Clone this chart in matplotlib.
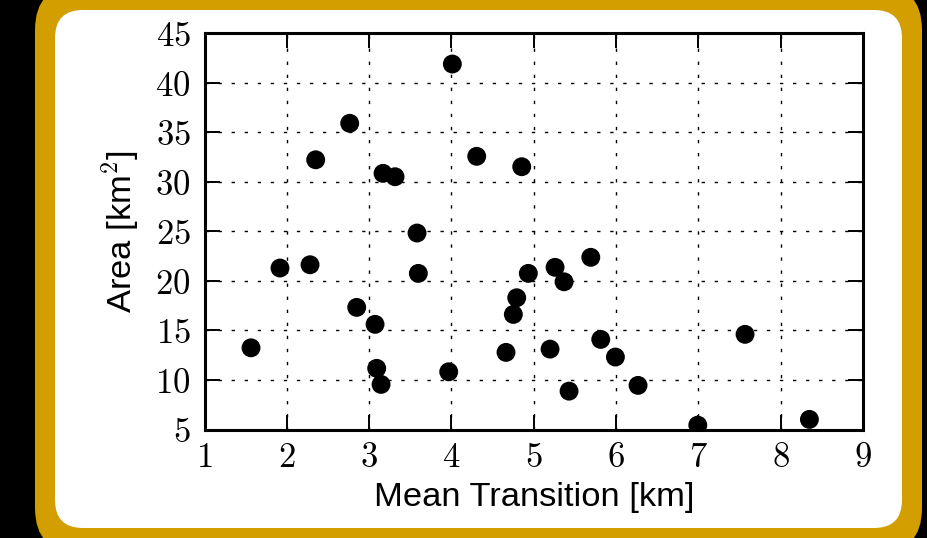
import matplotlib
matplotlib.use('Agg')
import matplotlib.pyplot as plt
import matplotlib.ticker as ticker
from matplotlib.patches import FancyBboxPatch

# data
transition = [1.565, 1.917, 2.282, 2.351, 2.764, 2.849, 3.072, 3.092, 3.145, 3.169,
              3.315, 3.582, 3.598, 3.967, 4.011, 4.307, 4.663, 4.752, 4.793, 4.854,
              4.934, 5.198, 5.259, 5.368, 5.429, 5.693, 5.814, 5.992, 6.267, 6.993,
              7.567, 8.349]
area = [13.24, 21.29, 21.62, 32.21, 35.89, 17.32, 15.61, 11.17, 9.55, 30.84,
        30.50, 24.82, 20.75, 10.82, 41.87, 32.56, 12.78, 16.61, 18.29, 31.51,
        20.75, 13.11, 21.36, 19.90, 8.87, 22.37, 14.09, 12.31, 9.45, 5.44,
        14.60, 6.02]
xticks = [1, 2, 3, 4, 5, 6, 7, 8, 9]
yticks = [5, 10, 15, 20, 25, 30, 35, 40, 45]

plt.rcParams['font.family'] = ['Liberation Sans', 'DejaVu Sans']
plt.rcParams['mathtext.fontset'] = 'cm'

W, H = 927, 538
fig = plt.figure(figsize=(W / 100, H / 100), dpi=100)
fig.patch.set_facecolor('black')

# gold frame and white card (pixel coords, origin bottom-left)
gold = FancyBboxPatch((35 + 45, -15 + 45), 887 - 90, 568 - 90,
                      boxstyle='round,pad=45', transform=None,
                      facecolor='#D39E00', edgecolor='none', zorder=-2)
card = FancyBboxPatch((55 + 28, 10 + 28), 847 - 56, 518 - 56,
                      boxstyle='round,pad=28', transform=None,
                      facecolor='white', edgecolor='none', zorder=-1)
fig.patches.extend([gold, card])

ax = fig.add_axes([204.5 / W, (H - 429.5) / H, (863 - 204.5) / W, (429.5 - 33) / H])
ax.set_facecolor('white')

ax.scatter(transition, area, s=185, c='black', edgecolors='none', zorder=3)

ax.set_xlim(1, 9)
ax.set_ylim(5, 45)
ax.set_xticks(xticks)
ax.set_yticks(yticks)
fmt = ticker.FuncFormatter(lambda v, p: '$%g$' % v)
ax.xaxis.set_major_formatter(fmt)
ax.yaxis.set_major_formatter(fmt)

ax.grid(True, color='black', linewidth=1.0, linestyle=(0, (2.4, 7.0)))
ax.set_axisbelow(True)
ax.tick_params(direction='in', top=True, right=True, length=11, width=1.4,
               labelsize=25, color='black')
ax.tick_params(axis='x', pad=8)
ax.tick_params(axis='y', pad=10)
for s in ax.spines.values():
    s.set_linewidth(2.2)

ax.set_xlabel('Mean Transition [km]', fontsize=24.8, labelpad=6)
ax.set_ylabel('Area [km$^2$]', fontsize=24.8, labelpad=10)

fig.savefig('out.png', dpi=100, facecolor=fig.get_facecolor())
